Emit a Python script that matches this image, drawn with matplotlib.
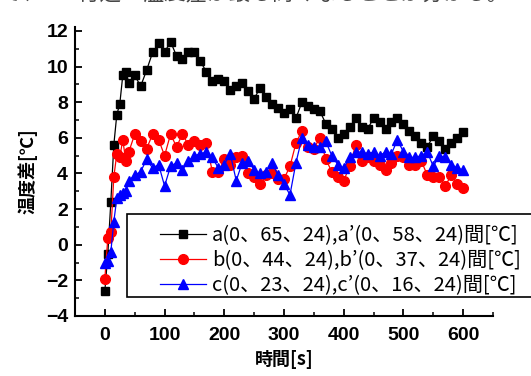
import matplotlib
matplotlib.use("Agg")
import matplotlib.pyplot as plt
from matplotlib.patches import Rectangle

# time [s]
times = [0, 5, 10, 15, 20, 25, 30, 35, 40, 50, 60, 70, 80, 90, 100, 110, 120,
         130, 140, 150, 160, 170, 180, 190, 200, 210, 220, 230, 240, 250, 260,
         270, 280, 290, 300, 310, 320, 330, 340, 350, 360, 370, 380, 390, 400,
         410, 420, 430, 440, 450, 460, 470, 480, 490, 500, 510, 520, 530, 540,
         550, 560, 570, 580, 590, 600]

series_a = [-2.6, -0.5, 2.4, 5.6, 7.3, 7.9, 9.5, 9.7, 9.1, 9.5, 8.9, 9.8, 10.8,
            11.3, 10.8, 11.4, 10.6, 10.4, 10.8, 10.8, 10.3, 9.7, 9.2, 9.3, 9.2,
            8.7, 8.9, 9.1, 8.6, 8.2, 8.8, 8.3, 7.9, 7.7, 7.4, 7.6, 7.1, 8.0, 7.8,
            7.6, 7.5, 6.8, 6.5, 6.0, 6.2, 6.6, 7.1, 6.6, 6.5, 7.1, 6.9, 6.5, 6.9,
            7.1, 6.8, 6.4, 6.1, 5.7, 5.5, 6.1, 5.8, 5.4, 5.7, 6.0, 6.3]

series_b = [-1.9, 0.4, 0.7, 3.8, 5.1, 4.9, 5.9, 4.7, 5.2, 6.2, 5.8, 5.4, 6.2,
            5.9, 5.0, 6.2, 5.5, 6.2, 5.6, 5.8, 5.6, 5.7, 4.1, 4.1, 4.8, 4.5, 4.9,
            5.0, 4.0, 3.8, 3.4, 3.9, 4.0, 3.7, 3.7, 4.4, 5.7, 6.4, 5.5, 5.4, 6.0,
            4.8, 4.1, 3.8, 3.6, 4.4, 5.6, 4.7, 4.9, 4.7, 4.5, 4.2, 4.6, 5.0, 4.9,
            4.5, 4.5, 4.7, 3.9, 3.8, 3.8, 3.3, 3.9, 3.4, 3.2]

series_c = [-1.0, -0.9, -0.4, 1.3, 2.6, 2.8, 2.9, 3.0, 3.6, 3.9, 4.1, 4.8, 4.3,
            4.5, 3.3, 4.4, 4.6, 4.2, 4.7, 5.0, 5.1, 5.2, 4.9, 4.3, 4.5, 5.1, 3.6,
            4.6, 4.7, 4.2, 4.0, 4.1, 4.6, 3.9, 3.4, 2.8, 4.6, 6.0, 5.6, 5.5, 5.5,
            5.8, 5.0, 4.5, 4.3, 4.9, 5.2, 5.2, 5.1, 5.2, 5.0, 5.2, 5.1, 5.9, 5.2,
            4.9, 4.9, 5.0, 5.2, 4.4, 5.0, 4.9, 4.5, 4.3, 4.2]

labels = ["a(0、65、24),a’(0、58、24)間[℃]",
          "b(0、44、24),b’(0、37、24)間[℃]",
          "c(0、23、24),c’(0、16、24)間[℃]"]

W, H = 531, 376
fig = plt.figure(figsize=(W / 100, H / 100), dpi=100)
ax = fig.add_axes([75 / W, 1 - 316 / H, (493 - 75) / W, (316 - 27) / H])

la, = ax.plot(times, series_a, color="black", marker="s", ms=6, lw=0.9,
              label=labels[0])
lb, = ax.plot(times, series_b, color="red", marker="o", ms=7, lw=0.9,
              label=labels[1])
lc, = ax.plot(times, series_c, color="blue", marker="^", ms=7.5, lw=0.9,
              label=labels[2])

ax.set_xlim(-50, 650)
ax.set_ylim(-4, 12.22)
ax.set_xticks([0, 100, 200, 300, 400, 500, 600])
ax.set_xticks(range(-50, 651, 50), minor=True)
ax.set_yticks(range(-4, 13, 2))
ax.set_yticks(range(-4, 13, 1), minor=True)
ax.set_yticklabels(["−4", "−2", "0", "2", "4", "6", "8", "10", "12"])

for s in ["top", "right"]:
    ax.spines[s].set_visible(False)
for s in ["left", "bottom"]:
    ax.spines[s].set_linewidth(1.5)

ax.tick_params(which="major", direction="in", length=5, width=1.3)
ax.tick_params(which="minor", direction="in", length=3, width=1.1)
ax.tick_params(axis="x", pad=8)
ax.tick_params(axis="y", pad=5)
for t in ax.get_xticklabels() + ax.get_yticklabels():
    t.set_fontfamily("Liberation Sans")
    t.set_fontweight("bold")
    t.set_fontsize(14)

ax.set_xlabel("時間[s]", family="Noto Sans CJK JP", fontweight="bold",
              fontsize=13, labelpad=4)
ax.set_ylabel("温度差[℃]", family="Noto Sans CJK JP", fontweight="bold",
              fontsize=13, labelpad=6)

# legend frame (runs off the right edge)
fig.patches.append(Rectangle((127 / W, 1 - 297 / H), 420 / W, 83 / H,
                             transform=fig.transFigure, facecolor="white",
                             edgecolor="black", lw=1.2, zorder=3))
fs = 14.5
leg = fig.legend(handles=[la, lb, lc], loc="center left",
                 bbox_to_anchor=(160 / W, 1 - 261 / H),
                 bbox_transform=fig.transFigure, frameon=False,
                 borderpad=0, borderaxespad=0, handlelength=2.3,
                 handletextpad=0.3, labelspacing=0.2,
                 prop={"family": ["Noto Sans CJK JP"], "size": fs})
leg.set_zorder(4)

# cut-off line of text from the page above
fig.text(0.0, 1 + 1 / H, "で、32. 付近・温度差が最も高くなることが分かる。",
         family="Noto Sans CJK JP", fontsize=15.5, color="#444444",
         va="baseline", ha="left")

fig.savefig("out.png", dpi=100)
